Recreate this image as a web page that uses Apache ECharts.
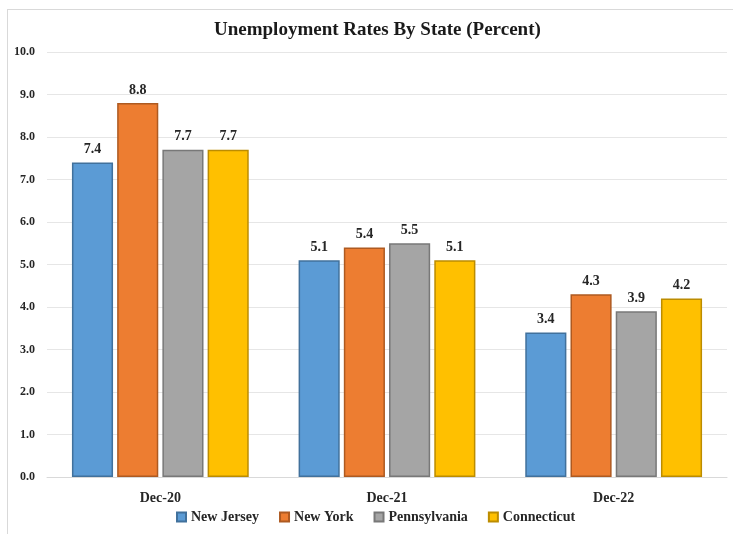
<!DOCTYPE html>
<html>
<head>
<meta charset="utf-8">
<script src="https://cdn.jsdelivr.net/npm/echarts@6/dist/echarts.min.js"></script>
<style>
  html, body { margin: 0; padding: 0; background: #fff; }
  #frame { position: absolute; left: 7px; top: 9px; width: 740px; height: 540px; border: 1px solid #d9d9d9; }
  #main { position: absolute; left: 0; top: 0; width: 733px; height: 534px; }
</style>
</head>
<body>
<div id="frame"></div>
<div id="main"></div>
<script>
var categories = ['Dec-20', 'Dec-21', 'Dec-22'];
var newJersey = [7.4, 5.1, 3.4];
var newYork = [8.8, 5.4, 4.3];
var pennsylvania = [7.7, 5.5, 3.9];
var connecticut = [7.7, 5.1, 4.2];

var font = '"Liberation Serif", "DejaVu Serif", serif';

function bar(name, data, color, border) {
    return {
        name: name,
        type: 'bar',
        data: data,
        barGap: '10%',
        barCategoryGap: '22%',
        itemStyle: { color: color, borderColor: border, borderWidth: 1.5 },
        label: {
            show: true,
            position: 'top',
            distance: 6,
            formatter: function (p) { return p.value.toFixed(1); },
            color: '#262626',
            fontFamily: font,
            fontWeight: 'bold',
            fontSize: 14
        }
    };
}

var myChart = echarts.init(document.getElementById('main'));

var option = {
    animation: false,
    title: {
        text: 'Unemployment Rates By State (Percent)',
        left: 209,
        top: 16,
        textStyle: { fontFamily: font, fontWeight: 'bold', fontSize: 19, color: '#1a1a1a' }
    },
    legend: {
        bottom: 5,
        left: 171,
        itemWidth: 9,
        itemHeight: 9,
        itemGap: 20,
        icon: 'rect',
        textStyle: { fontFamily: font, fontWeight: 'bold', fontSize: 14, color: '#262626' }
    },
    grid: { left: 47, right: 6, top: 52, bottom: 57 },
    xAxis: {
        type: 'category',
        data: categories,
        axisTick: { show: false },
        axisLine: { lineStyle: { color: '#d9d9d9' } },
        axisLabel: { fontFamily: font, fontWeight: 'bold', fontSize: 14, color: '#262626', margin: 14 }
    },
    yAxis: {
        type: 'value',
        min: 0,
        max: 10,
        interval: 1,
        axisLine: { show: false },
        axisTick: { show: false },
        splitLine: { lineStyle: { color: '#e6e6e6' } },
        axisLabel: {
            fontFamily: font, fontWeight: 'bold', fontSize: 12, color: '#262626', margin: 12,
            formatter: function (v) { return v.toFixed(1); }
        }
    },
    series: [
        bar('New Jersey', newJersey, '#5B9BD5', '#41719C'),
        bar('New York', newYork, '#ED7D31', '#AE5A21'),
        bar('Pennsylvania', pennsylvania, '#A5A5A5', '#787878'),
        bar('Connecticut', connecticut, '#FFC000', '#BC8C00')
    ]
};

myChart.setOption(option);
</script>
</body>
</html>
